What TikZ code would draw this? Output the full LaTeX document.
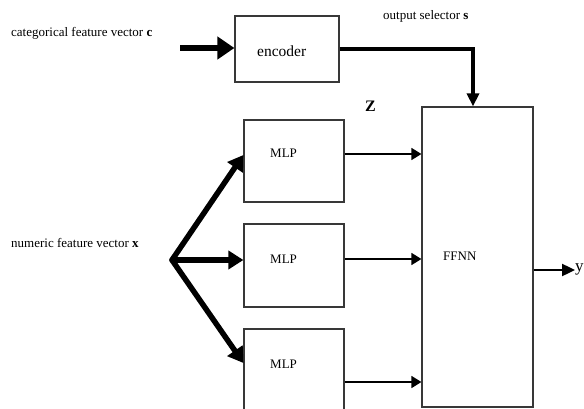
\documentclass[tikz,border=0pt]{standalone}
\usepackage{fontspec}
\setmainfont{Liberation Serif}
\usetikzlibrary{arrows.meta}
\tikzset{
  box/.style={draw=black!78, line width=1.2pt, rectangle, inner sep=0pt, fill=white},
  lbl/.style={inner sep=0pt, anchor=base west, font=\fontsize{13}{15}\selectfont},
  bigarrow/.style={line width=6pt, -{Triangle[length=17pt,width=22pt]}},
  fanarrow/.style={line width=5.5pt, -{Triangle[length=15pt,width=18pt]}},
  selarrow/.style={line width=4pt, -{Triangle[length=13pt,width=12pt]}},
  thinarrow/.style={line width=1.6pt, -{Triangle[length=10pt,width=12pt]}},
  outarrow/.style={line width=2.4pt, -{Triangle[length=13pt,width=12pt]}}
}
\begin{document}
\begin{tikzpicture}[x=1pt,y=-1pt]
\useasboundingbox (0,0) rectangle (584,409);
\clip (0,0) rectangle (584,409);
% boxes
\node[box, minimum width=104pt, minimum height=66pt] (enc) at (287,49) {};
\node[box, minimum width=100pt, minimum height=82pt] (mlp1) at (294,161) {};
\node[box, minimum width=100pt, minimum height=83pt] (mlp2) at (294,265.5) {};
\node[box, minimum width=100pt, minimum height=83pt] (mlp3) at (294,370.5) {};
\node[box, minimum width=111pt, minimum height=300pt] (ffnn) at (477.5,257) {};
% labels
\node[lbl] (tcat) at (11,37) {categorical feature vector \textbf{c}};
\node[lbl] (tnum) at (11,247) {numeric feature vector \textbf{x}};
\node[lbl] (tsel) at (383,20) {output selector \textbf{s}};
\node[lbl, font=\fontsize{15.5}{17}\selectfont] (tenc) at (257,57) {encoder};
\node[lbl] (tm1) at (270,158) {MLP};
\node[lbl] (tm2) at (270,263) {MLP};
\node[lbl] (tm3) at (270,368) {MLP};
\node[lbl] (tff) at (443,260) {FFNN};
\node[lbl, font=\fontsize{16}{18}\selectfont\bfseries] (tz) at (365,112) {Z};
\node[lbl, font=\fontsize{17}{19}\selectfont] (ty) at (575,271) {y};
% coordinates
\coordinate (cin) at (180,48);
\coordinate (fan) at (172,260);
\coordinate (sel) at (473,49);
\coordinate (yout) at (575,270);
% connectors
\draw[bigarrow] (cin) -- (cin -| enc.west);
\draw[line width=4pt] (enc.east |- sel) -- ([xshift=2pt]sel);
\draw[selarrow] ([yshift=-2pt]sel) -- (sel |- ffnn.north);
\draw[fanarrow, line cap=round] (fan) -- ([yshift=6pt]mlp1.west);
\draw[fanarrow] (fan) -- ([yshift=5.5pt]mlp2.west);
\draw[fanarrow, line cap=round] (fan) -- ([yshift=7.5pt]mlp3.west);
\draw[thinarrow] ([yshift=7pt]mlp1.east) -- ([yshift=7pt]mlp1.east -| ffnn.west);
\draw[thinarrow] ([yshift=6.5pt]mlp2.east) -- ([yshift=6.5pt]mlp2.east -| ffnn.west);
\draw[thinarrow] ([yshift=-11.5pt]mlp3.east) -- ([yshift=-11.5pt]mlp3.east -| ffnn.west);
\draw[outarrow] (ffnn.east |- yout) -- (yout);
\end{tikzpicture}
\end{document}
